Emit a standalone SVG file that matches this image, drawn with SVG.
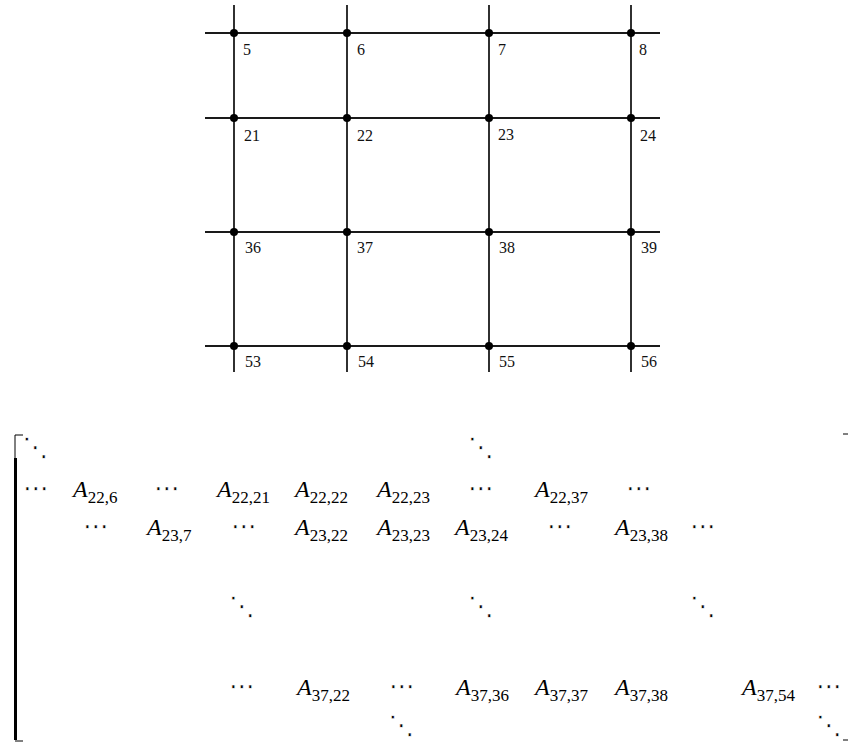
<svg xmlns="http://www.w3.org/2000/svg" width="848" height="742" viewBox="0 0 848 742">
<style>
.ln{stroke:#1a1a1a;stroke-width:1.8;fill:none}
.nd{fill:#000}
.lb{font-family:"Liberation Serif","Times New Roman",serif;font-size:16px;fill:#111}
.m{font-family:"Liberation Serif","Times New Roman",serif;font-size:17px;fill:#000}
.a{font-style:italic;font-size:24px}
.d{font-family:"DejaVu Sans",sans-serif;font-size:26px;fill:#000;stroke:#fff;stroke-width:0.5;text-anchor:middle}
.br{stroke:#000;fill:none}
</style>
<rect width="848" height="742" fill="#fff"/>
<g id="connectors">
<line class="ln" x1="205" y1="33" x2="660" y2="33"/>
<line class="ln" x1="205" y1="118" x2="660" y2="118"/>
<line class="ln" x1="205" y1="232" x2="660" y2="232"/>
<line class="ln" x1="205" y1="346" x2="660" y2="346"/>
<line class="ln" x1="234" y1="5" x2="234" y2="372"/>
<line class="ln" x1="347" y1="5" x2="347" y2="372"/>
<line class="ln" x1="489" y1="5" x2="489" y2="372"/>
<line class="ln" x1="631" y1="5" x2="631" y2="372"/>
</g>
<g id="n5"><circle class="nd" cx="234" cy="33" r="4"/><text class="lb" x="243" y="55">5</text></g>
<g id="n6"><circle class="nd" cx="347" cy="33" r="4"/><text class="lb" x="357" y="55">6</text></g>
<g id="n7"><circle class="nd" cx="489" cy="33" r="4"/><text class="lb" x="498" y="55">7</text></g>
<g id="n8"><circle class="nd" cx="631" cy="33" r="4"/><text class="lb" x="639" y="55">8</text></g>
<g id="n21"><circle class="nd" cx="234" cy="118" r="4"/><text class="lb" x="244" y="141">21</text></g>
<g id="n22"><circle class="nd" cx="347" cy="118" r="4"/><text class="lb" x="357" y="141">22</text></g>
<g id="n23"><circle class="nd" cx="489" cy="118" r="4"/><text class="lb" x="498" y="140">23</text></g>
<g id="n24"><circle class="nd" cx="631" cy="118" r="4"/><text class="lb" x="640" y="141">24</text></g>
<g id="n36"><circle class="nd" cx="234" cy="232" r="4"/><text class="lb" x="245" y="253">36</text></g>
<g id="n37"><circle class="nd" cx="347" cy="232" r="4"/><text class="lb" x="357" y="253">37</text></g>
<g id="n38"><circle class="nd" cx="489" cy="232" r="4"/><text class="lb" x="499" y="253">38</text></g>
<g id="n39"><circle class="nd" cx="631" cy="232" r="4"/><text class="lb" x="641" y="253">39</text></g>
<g id="n53"><circle class="nd" cx="234" cy="346" r="4"/><text class="lb" x="245" y="367">53</text></g>
<g id="n54"><circle class="nd" cx="347" cy="346" r="4"/><text class="lb" x="358" y="367">54</text></g>
<g id="n55"><circle class="nd" cx="489" cy="346" r="4"/><text class="lb" x="499" y="367">55</text></g>
<g id="n56"><circle class="nd" cx="631" cy="346" r="4"/><text class="lb" x="641" y="367">56</text></g>

<g id="matrix">
<path class="br" stroke-width="1" d="M23,435 H15 V460"/>
<path class="br" stroke-width="3" d="M15.5,458 V740"/>
<path class="br" stroke="#888" stroke-width="1" d="M15,741 H23"/>
<path class="br" stroke-width="1" d="M843,434 H848"/>
<path class="br" stroke="#888" stroke-width="1" d="M843,740 H848"/>

<text class="d" x="35.5" y="456">⋱</text>
<text class="d" x="481" y="456">⋱</text>

<text class="d" x="36" y="497">⋯</text>
<text class="m" x="73" y="497"><tspan class="a">A</tspan><tspan dy="6">22,6</tspan></text>
<text class="d" x="167" y="497">⋯</text>
<text class="m" x="217" y="497"><tspan class="a">A</tspan><tspan dy="6">22,21</tspan></text>
<text class="m" x="295" y="497"><tspan class="a">A</tspan><tspan dy="6">22,22</tspan></text>
<text class="m" x="377" y="497"><tspan class="a">A</tspan><tspan dy="6">22,23</tspan></text>
<text class="d" x="481" y="497">⋯</text>
<text class="m" x="535" y="497"><tspan class="a">A</tspan><tspan dy="6">22,37</tspan></text>
<text class="d" x="639" y="497">⋯</text>

<text class="d" x="96" y="535">⋯</text>
<text class="m" x="147" y="535"><tspan class="a">A</tspan><tspan dy="6">23,7</tspan></text>
<text class="d" x="244" y="535">⋯</text>
<text class="m" x="295" y="535"><tspan class="a">A</tspan><tspan dy="6">23,22</tspan></text>
<text class="m" x="377" y="535"><tspan class="a">A</tspan><tspan dy="6">23,23</tspan></text>
<text class="m" x="455" y="535"><tspan class="a">A</tspan><tspan dy="6">23,24</tspan></text>
<text class="d" x="560" y="535">⋯</text>
<text class="m" x="615" y="535"><tspan class="a">A</tspan><tspan dy="6">23,38</tspan></text>
<text class="d" x="703" y="535">⋯</text>

<text class="d" x="242" y="615">⋱</text>
<text class="d" x="481" y="615">⋱</text>
<text class="d" x="703" y="615">⋱</text>

<text class="d" x="242" y="695">⋯</text>
<text class="m" x="297" y="695"><tspan class="a">A</tspan><tspan dy="6">37,22</tspan></text>
<text class="d" x="402" y="695">⋯</text>
<text class="m" x="456" y="695"><tspan class="a">A</tspan><tspan dy="6">37,36</tspan></text>
<text class="m" x="535" y="695"><tspan class="a">A</tspan><tspan dy="6">37,37</tspan></text>
<text class="m" x="615" y="695"><tspan class="a">A</tspan><tspan dy="6">37,38</tspan></text>
<text class="m" x="742" y="695"><tspan class="a">A</tspan><tspan dy="6">37,54</tspan></text>
<text class="d" x="829" y="695">⋯</text>

<text class="d" x="401.5" y="734">⋱</text>
<text class="d" x="829" y="734">⋱</text>
</g>
</svg>
